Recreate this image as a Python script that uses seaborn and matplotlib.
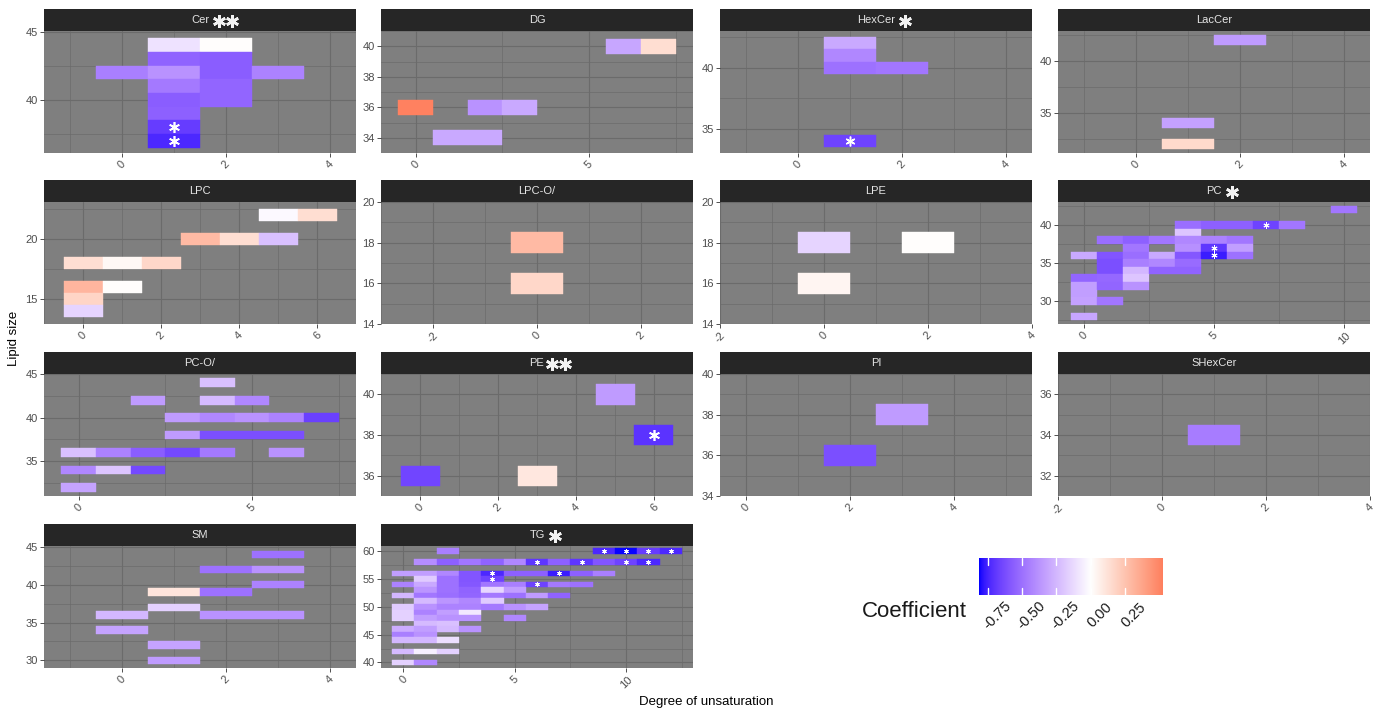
import numpy as np
import pandas as pd
import matplotlib
matplotlib.use("Agg")
import matplotlib.pyplot as plt
import seaborn as sns
from matplotlib.colors import ListedColormap, Normalize
from matplotlib.patches import Rectangle
from matplotlib.lines import Line2D
from matplotlib.ticker import MultipleLocator, AutoMinorLocator

# ---------------- data ----------------
CLASSES = ["Cer", "DG", "HexCer", "LacCer", "LPC", "LPC-O/", "LPE", "PC",
           "PC-O/", "PE", "PI", "SHexCer", "SM", "TG"]
CLASS_STARS = {"Cer": 2, "HexCer": 1, "PC": 1, "PE": 2, "TG": 1}

CER_X = [1, 2, 1, 2, 0, 1, 2, 3, 1, 2, 1, 2, 1, 1, 1]
CER_Y = [44, 44, 43, 43, 42, 42, 42, 42, 41, 41, 40, 40, 39, 38, 37]
CER_C = [-0.10, 0.01, -0.55, -0.57, -0.45, -0.38, -0.57, -0.44, -0.47, -0.54,
         -0.57, -0.54, -0.56, -0.68, -0.74]
CER_S = [0, 0, 0, 0, 0, 0, 0, 0, 0, 0, 0, 0, 0, 1, 1]

DG_X = [0, 1, 2, 2, 3, 6, 7]
DG_Y = [36, 34, 34, 36, 36, 40, 40]
DG_C = [0.52, -0.30, -0.30, -0.38, -0.30, -0.31, 0.14]
DG_S = [0, 0, 0, 0, 0, 0, 0]

HEXCER_X = [1, 1, 1, 2, 1]
HEXCER_Y = [42, 41, 40, 40, 34]
HEXCER_C = [-0.30, -0.42, -0.50, -0.48, -0.66]
HEXCER_S = [0, 0, 0, 0, 1]

LACCER_X = [2, 1, 1]
LACCER_Y = [42, 34, 32]
LACCER_C = [-0.35, -0.33, 0.16]
LACCER_S = [0, 0, 0]

LPC_X = [5, 6, 3, 4, 5, 0, 1, 2, 0, 1, 0, 0]
LPC_Y = [22, 22, 20, 20, 20, 18, 18, 18, 16, 16, 15, 14]
LPC_C = [-0.02, 0.14, 0.29, 0.14, -0.22, 0.14, 0.03, 0.17, 0.31, 0.01, 0.18, -0.15]
LPC_S = [0] * 12

LPCO_X = [0, 0]
LPCO_Y = [18, 16]
LPCO_C = [0.29, 0.17]
LPCO_S = [0, 0]

LPE_X = [0, 2, 0]
LPE_Y = [18, 18, 16]
LPE_C = [-0.15, 0.01, 0.04]
LPE_S = [0, 0, 0]

PC_X = [10, 4, 5, 6, 7, 8, 4, 1, 2, 3, 4, 5, 6, 2, 4, 5, 6,
        0, 1, 2, 3, 4, 5, 6, 1, 2, 3, 4, 1, 2, 3, 4,
        0, 1, 2, 0, 1, 2, 0, 0, 1, 0]
PC_Y = [42, 40, 40, 40, 40, 40, 39, 38, 38, 38, 38, 38, 38, 37, 37, 37, 37,
        36, 36, 36, 36, 36, 36, 36, 35, 35, 35, 35, 34, 34, 34, 34,
        33, 33, 33, 32, 32, 32, 31, 30, 30, 28]
PC_C = [-0.48, -0.51, -0.56, -0.56, -0.66, -0.48, -0.20, -0.51, -0.56, -0.48, -0.42, -0.44, -0.48,
        -0.48, -0.39, -0.70, -0.34,
        -0.30, -0.60, -0.51, -0.30, -0.59, -0.77, -0.50, -0.62, -0.45, -0.42, -0.52,
        -0.62, -0.25, -0.55, -0.55, -0.54, -0.53, -0.20, -0.34, -0.54, -0.38, -0.34,
        -0.33, -0.48, -0.31]
PC_S = [0, 0, 0, 0, 1, 0, 0, 0, 0, 0, 0, 0, 0, 0, 0, 1, 0,
        0, 0, 0, 0, 0, 1, 0, 0, 0, 0, 0, 0, 0, 0, 0,
        0, 0, 0, 0, 0, 0, 0, 0, 0, 0]

PCO_X = [4, 2, 4, 5, 3, 4, 5, 6, 7, 3, 4, 5, 6, 0, 1, 2, 3, 4, 6, 0, 1, 2, 0]
PCO_Y = [44, 42, 42, 42, 40, 40, 40, 40, 40, 38, 38, 38, 38, 36, 36, 36, 36, 36, 36,
         34, 34, 34, 32]
PCO_C = [-0.22, -0.35, -0.24, -0.42, -0.35, -0.42, -0.38, -0.44, -0.67, -0.35, -0.62,
         -0.62, -0.62, -0.22, -0.44, -0.57, -0.64, -0.47, -0.38, -0.42, -0.20, -0.64, -0.32]
PCO_S = [0] * 23

PE_X = [5, 6, 0, 3]
PE_Y = [40, 38, 36, 36]
PE_C = [-0.35, -0.71, -0.65, 0.10]
PE_S = [0, 1, 0, 0]

PI_X = [2, 3]
PI_Y = [36, 38]
PI_C = [-0.62, -0.35]
PI_S = [0, 0]

SHEXCER_X = [1]
SHEXCER_Y = [34]
SHEXCER_C = [-0.46]
SHEXCER_S = [0]

SM_X = [3, 2, 3, 3, 1, 2, 1, 0, 2, 3, 0, 1, 1]
SM_Y = [44, 42, 42, 40, 39, 39, 37, 36, 36, 36, 34, 32, 30]
SM_C = [-0.50, -0.50, -0.38, -0.44, 0.11, -0.50, -0.16, -0.25, -0.38, -0.38, -0.32,
        -0.32, -0.35]
SM_S = [0] * 13

TG_X = [2, 9, 10, 11, 12,
        1, 2, 3, 4, 5, 6, 7, 8, 9, 10, 11,
        0, 1, 2, 3, 4, 5, 6, 7, 8, 9,
        1, 2, 3, 4,
        0, 1, 2, 3, 4, 5, 6, 7, 8,
        1, 2, 3, 4, 5,
        0, 1, 2, 3, 4, 5, 6, 7,
        1, 2, 3, 4,
        0, 1, 2, 3, 4, 5, 6,
        0, 1, 2, 3,
        0, 1, 2, 3, 5,
        1, 2,
        0, 1, 2, 3,
        0, 1,
        0, 1, 2,
        0, 1, 2,
        0, 1]
TG_Y = [60] * 5 + [58] * 11 + [56] * 10 + [55] * 4 + [54] * 9 + [53] * 5 + [52] * 8 + \
       [51] * 4 + [50] * 7 + [49] * 4 + [48] * 5 + [47] * 2 + [46] * 4 + [45] * 2 + \
       [44] * 3 + [42] * 3 + [40] * 2
TG_C = [-0.45, -0.74, -0.81, -0.68, -0.74,
        -0.40, -0.56, -0.48, -0.55, -0.42, -0.70, -0.56, -0.70, -0.60, -0.66, -0.74,
        -0.34, -0.34, -0.42, -0.60, -0.74, -0.56, -0.56, -0.77, -0.56, -0.45,
        -0.18, -0.50, -0.60, -0.66,
        -0.44, -0.30, -0.50, -0.59, -0.48, -0.45, -0.66, -0.47, -0.50,
        -0.37, -0.50, -0.55, -0.14, -0.34,
        -0.25, -0.48, -0.51, -0.54, -0.47, -0.50, -0.35, -0.55,
        -0.24, -0.37, -0.42, -0.18,
        -0.18, -0.38, -0.44, -0.44, -0.47, -0.38, -0.32,
        -0.16, -0.44, -0.34, -0.08,
        -0.16, -0.34, -0.38, -0.38, -0.42,
        -0.24, -0.22,
        -0.29, -0.34, -0.24, -0.38,
        -0.45, -0.38,
        -0.25, -0.25, -0.11,
        -0.24, -0.05, -0.16,
        -0.16, -0.42]
TG_S = [0, 1, 1, 1, 1,
        0, 0, 0, 0, 0, 1, 0, 1, 0, 1, 1,
        0, 0, 0, 0, 1, 0, 0, 1, 0, 0,
        0, 0, 0, 1,
        0, 0, 0, 0, 0, 0, 1, 0, 0] + [0] * 49

LEGEND_TICKS = [-0.75, -0.50, -0.25, 0.00, 0.25]
LEGEND_LABELS = ["-0.75", "-0.50", "-0.25", "0.00", "0.25"]
COEF_MIN, COEF_MAX = -0.815, 0.527

CLASS_DATA = {
    "Cer": (CER_X, CER_Y, CER_C, CER_S), "DG": (DG_X, DG_Y, DG_C, DG_S),
    "HexCer": (HEXCER_X, HEXCER_Y, HEXCER_C, HEXCER_S),
    "LacCer": (LACCER_X, LACCER_Y, LACCER_C, LACCER_S),
    "LPC": (LPC_X, LPC_Y, LPC_C, LPC_S), "LPC-O/": (LPCO_X, LPCO_Y, LPCO_C, LPCO_S),
    "LPE": (LPE_X, LPE_Y, LPE_C, LPE_S), "PC": (PC_X, PC_Y, PC_C, PC_S),
    "PC-O/": (PCO_X, PCO_Y, PCO_C, PCO_S), "PE": (PE_X, PE_Y, PE_C, PE_S),
    "PI": (PI_X, PI_Y, PI_C, PI_S),
    "SHexCer": (SHEXCER_X, SHEXCER_Y, SHEXCER_C, SHEXCER_S),
    "SM": (SM_X, SM_Y, SM_C, SM_S), "TG": (TG_X, TG_Y, TG_C, TG_S),
}

frames = []
for cls in CLASSES:
    xs, ys, cs, ss = CLASS_DATA[cls]
    frames.append(pd.DataFrame({"cls": cls, "unsat": xs, "size": ys, "coef": cs, "sig": ss}))
df = pd.concat(frames, ignore_index=True)

# ---------------- axis specs (limits & tick steps) ----------------
AXIS_SPECS = {
    "Cer": ((-1.5, 4.5), (36.1, 45.05), 2, 5),
    "DG": ((-1.0, 8.0), (33.0, 41.0), 5, 2),
    "HexCer": ((-1.5, 4.5), (33.0, 43.0), 2, 5),
    "LacCer": ((-1.5, 4.5), (31.1, 42.9), 2, 5),
    "LPC": ((-1.0, 7.0), (12.95, 23.05), 2, 5),
    "LPC-O/": ((-3.0, 3.0), (14.0, 20.0), 2, 2),
    "LPE": ((-2.0, 4.0), (14.0, 20.0), 2, 2),
    "PC": ((-1.0, 11.0), (27.0, 43.0), 5, 5),
    "PC-O/": ((-1.0, 8.0), (31.0, 45.0), 5, 5),
    "PE": ((-1.0, 7.0), (35.0, 41.0), 2, 2),
    "PI": ((-0.5, 5.5), (34.0, 40.0), 2, 2),
    "SHexCer": ((-2.0, 4.0), (31.0, 37.0), 2, 2),
    "SM": ((-1.5, 4.5), (29.0, 45.1), 2, 5),
    "TG": ((-1.0, 13.0), (39.0, 60.9), 5, 5),
}

# ---------------- colour scale (Lab interpolation like ggplot gradient2) ----------------
def _lin(c):
    c = np.asarray(c, float)
    return np.where(c <= 0.04045, c / 12.92, ((c + 0.055) / 1.055) ** 2.4)

def _gam(c):
    c = np.clip(c, 0, 1)
    return np.where(c <= 0.0031308, 12.92 * c, 1.055 * c ** (1 / 2.4) - 0.055)

_M = np.array([[0.4124, 0.3576, 0.1805], [0.2126, 0.7152, 0.0722], [0.0193, 0.1192, 0.9505]])
_Mi = np.linalg.inv(_M)
_WN = np.array([0.95047, 1.0, 1.08883])

def _f(t):
    d = 6 / 29
    return np.where(t > d ** 3, np.cbrt(t), t / (3 * d * d) + 4 / 29)

def _finv(t):
    d = 6 / 29
    return np.where(t > d, t ** 3, 3 * d * d * (t - 4 / 29))

def rgb2lab(rgb):
    xyz = _M @ _lin(rgb) / _WN
    fx, fy, fz = _f(xyz)
    return np.array([116 * fy - 16, 500 * (fx - fy), 200 * (fy - fz)])

def lab2rgb(lab):
    L, a, b = lab
    fy = (L + 16) / 116
    xyz = np.array([_finv(fy + a / 500), _finv(fy), _finv(fy - b / 200)]) * _WN
    return _gam(_Mi @ xyz)

LAB_LOW = rgb2lab([0, 0, 1])
LAB_MID = rgb2lab([1, 1, 1])
LAB_HIGH = rgb2lab([1, 0, 0])
_scale = max(abs(COEF_MIN), abs(COEF_MAX))
cols = []
for v in np.linspace(COEF_MIN, COEF_MAX, 512):
    t = abs(v) / _scale
    end = LAB_LOW if v < 0 else LAB_HIGH
    cols.append(lab2rgb(LAB_MID + t * (end - LAB_MID)))
cmap = ListedColormap(np.clip(np.array(cols), 0, 1))
norm = Normalize(vmin=COEF_MIN, vmax=COEF_MAX)

# ---------------- layout ----------------
W, H = 1378, 712
COL_LEFT = [44, 381, 720, 1058]
ROW_TOP = [31, 202, 374, 546]
PANEL_W, PANEL_H, STRIP_H = 312, 122, 22

sns.set_theme(style="darkgrid", rc={
    "axes.facecolor": "#7F7F7F", "grid.color": "#6B6B6B",
    "xtick.color": "#333333", "ytick.color": "#333333",
    "xtick.labelcolor": "#4D4D4D", "ytick.labelcolor": "#4D4D4D",
    "axes.unicode_minus": False,
})
plt.rcParams["font.family"] = ["Liberation Sans", "DejaVu Sans"]


def draw_panel(data, **kws):
    ax = plt.gca()
    cls = data["cls"].iloc[0]
    xlim, ylim, _, _ = AXIS_SPECS[cls]
    fc = cmap(norm(data["coef"].to_numpy()))
    ax.bar(data["unsat"], 1.0, width=1.0, bottom=data["size"] - 0.5,
           color=fc, edgecolor=fc, linewidth=0.3, zorder=2)
    ax.set_xlim(*xlim)
    ax.set_ylim(*ylim)
    tile_px = PANEL_H / (ylim[1] - ylim[0])
    star_px = min(11.0, 0.8 * tile_px)
    sig = data[data["sig"] == 1]
    ax.plot(sig["unsat"], sig["size"], linestyle="none", marker=(6, 2, 0),
            markersize=star_px * 0.72, markeredgewidth=max(0.7, star_px * 0.11),
            color="white", zorder=3)


g = sns.FacetGrid(df, col="cls", col_wrap=4, col_order=CLASSES,
                  sharex=False, sharey=False, height=2, aspect=2.2, despine=False)
g.map_dataframe(draw_panel)
g.set_titles("")
g.set_axis_labels("", "")

fig = g.figure
fig.set_size_inches(W / 100, H / 100)
fig.set_dpi(100)

titles = {}
for i, cls in enumerate(CLASSES):
    ax = g.axes_dict[cls]
    r, c = divmod(i, 4)
    ax.set_position([COL_LEFT[c] / W, 1 - (ROW_TOP[r] + PANEL_H) / H,
                     PANEL_W / W, PANEL_H / H])
    _, _, xs, ys = AXIS_SPECS[cls]
    ax.xaxis.set_major_locator(MultipleLocator(xs))
    ax.yaxis.set_major_locator(MultipleLocator(ys))
    ax.xaxis.set_minor_locator(AutoMinorLocator(2))
    ax.yaxis.set_minor_locator(AutoMinorLocator(2))
    ax.grid(which="major", color="#6B6B6B", linewidth=0.8)
    ax.grid(which="minor", color="#6B6B6B", linewidth=0.5)
    ax.set_axisbelow(True)
    for sp in ax.spines.values():
        sp.set_visible(False)
    ax.tick_params(which="major", length=2.6, width=0.6, pad=2.0, labelsize=8,
                   bottom=True, left=True, color="#333333")
    ax.tick_params(which="minor", length=0)
    for lab in ax.get_xticklabels():
        lab.set_rotation(45)
        lab.set_ha("center")
        lab.set_va("top")
    ax.add_patch(Rectangle((0, 1), 1, STRIP_H / PANEL_H, transform=ax.transAxes,
                           clip_on=False, facecolor="#262626", edgecolor="none", zorder=5))
    titles[cls] = ax.text(0.5, 1 + STRIP_H / 2 / PANEL_H, cls, transform=ax.transAxes,
                          ha="center", va="center", color="#E5E5E5", fontsize=8, zorder=6)

fig.canvas.draw()
renderer = fig.canvas.get_renderer()
inv = fig.transFigure.inverted()
for cls, n in CLASS_STARS.items():
    ax = g.axes_dict[cls]
    bb = titles[cls].get_window_extent(renderer)
    ycen = ax.transAxes.transform((0.5, 1 + STRIP_H / 2 / PANEL_H))[1] - 0.5
    gap = 8 if cls == "PE" else 10
    for k in range(n):
        fx, fy = inv.transform((bb.x1 + gap + 12.5 * k, ycen))
        fig.add_artist(Line2D([fx], [fy], transform=fig.transFigure, linestyle="none",
                              marker=(6, 2, 0), markersize=9.3, markeredgewidth=1.9,
                              color="#F2F2F2", zorder=7))

# axis titles
fig.text(14 / W, 1 - 338 / H, "Lipid size", rotation=90, ha="center", va="center",
         fontsize=9.5, color="black")
fig.text(706 / W, 1 - 702 / H, "Degree of unsaturation", ha="center", va="center",
         fontsize=9.5, color="black")

# colour bar legend
cax = fig.add_axes([979 / W, 1 - 595 / H, 184 / W, 37 / H])
grad = np.linspace(COEF_MIN, COEF_MAX, 400)
cax.imshow(grad[None, :], aspect="auto", cmap=cmap, norm=norm,
           extent=(COEF_MIN, COEF_MAX, 0, 1))
cax.set_xlim(COEF_MIN, COEF_MAX)
cax.set_ylim(0, 1)
for tv in LEGEND_TICKS:
    cax.plot([tv, tv], [0, 0.18], color="white", lw=1.0)
    cax.plot([tv, tv], [0.82, 1], color="white", lw=1.0)
cax.set_axis_off()
for tv, lab in zip(LEGEND_TICKS, LEGEND_LABELS):
    cax.annotate(lab, xy=(tv, 0), xycoords=("data", "axes fraction"),
                 xytext=(6.5, -14.5), textcoords="offset points", rotation=45,
                 ha="center", va="center", fontsize=10.5, color="#1A1A1A")
fig.text(967 / W, 1 - 617 / H, "Coefficient", ha="right", va="baseline",
         fontsize=16, color="#1A1A1A")

fig.savefig("out.png", dpi=100, facecolor="white")
